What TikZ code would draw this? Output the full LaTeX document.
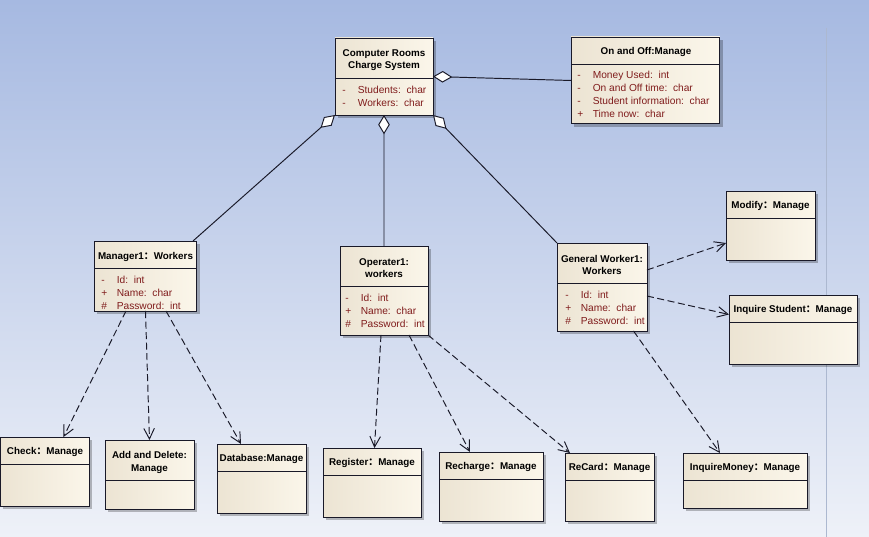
\documentclass[tikz,border=0pt]{standalone}
\usepackage{fontspec}
\setmainfont{Liberation Sans}
\newfontfamily\cjk{Noto Sans CJK SC}
\usetikzlibrary{arrows.meta,shadows}
\definecolor{bgtop}{RGB}{166,185,225}
\definecolor{bgmid}{RGB}{201,212,237}
\definecolor{bgbot}{RGB}{238,241,248}
\definecolor{boxl}{RGB}{236,228,211}
\definecolor{boxr}{RGB}{251,246,234}
\definecolor{attrc}{RGB}{128,28,28}
\definecolor{linec}{RGB}{25,25,40}
\definecolor{pagec}{RGB}{172,184,208}
\newcommand{\fc}{{\cjk ：}}
\newcommand{\vis}[1]{\makebox[8.8pt][l]{#1}}

\begin{document}
\begin{tikzpicture}[
  x=0.02cm, y=-0.02cm,
  cls/.style={draw=linec, line width=0.55pt, left color=boxl, right color=boxr, anchor=north west, inner sep=0pt, outer sep=0pt,
    drop shadow={shadow xshift=1.5pt, shadow yshift=-1.5pt, opacity=0.25, fill=black}},
  head/.style={align=center, inner sep=0pt, font=\fontsize{5.6}{6.9}\selectfont\bfseries, text=black},
  attr/.style={anchor=north west, align=left, inner sep=0pt, font=\fontsize{5.8}{7.37}\selectfont, text=attrc},
  divider/.style={draw=linec, line width=0.55pt},
  agg/.style={{Diamond[fill=white, length=11pt, width=6.6pt]}-, draw=linec, line width=0.55pt},
  dep/.style={-{Straight Barb[length=6pt, width=6pt]}, draw=linec, line width=0.55pt, dash pattern=on 4pt off 2pt},
]
\useasboundingbox (0,0) rectangle (869,537);
\shade[top color=bgtop, middle color=bgmid, bottom color=bgbot] (0,0) rectangle (869,537);
\draw[pagec, line width=0.5pt] (826,28) -- (826,537);

% top row
\node[cls, minimum width=1.96cm, minimum height=1.54cm] (crs) at (335,38) {};
\node[head] (crsH) at (384,60) {Computer Rooms\\Charge System};
\draw[divider] (crs.west |- 0,78) -- (crs.east |- 0,78);
\node[attr] (crsA) at (342,85.5) {\vis{-}Students:\ \ char\\\vis{-}Workers:\ \ char};

\node[cls, minimum width=2.98cm, minimum height=1.74cm] (oo) at (571,37) {};
\node[head] (ooH) at (646,52) {On and Off:Manage};
\draw[divider] (oo.west |- 0,64) -- (oo.east |- 0,64);
\node[attr] (ooA) at (577,70.5) {\vis{-}Money Used:\ \ int\\\vis{-}On and Off time:\ \ char\\\vis{-}Student information:\ \ char\\\vis{+}Time now:\ \ char};

% middle row
\node[cls, minimum width=2.06cm, minimum height=1.40cm] (mgr) at (94,241) {};
\node[head] (mgrH) at (145.5,257) {Manager1\fc Workers};
\draw[divider] (mgr.west |- 0,268) -- (mgr.east |- 0,268);
\node[attr] (mgrA) at (101,275.5) {\vis{-}Id:\ \ int\\\vis{+}Name:\ \ char\\\vis{\#}Password:\ \ int};

\node[cls, minimum width=1.76cm, minimum height=1.78cm] (op) at (340,246) {};
\node[head] (opH) at (384,268.5) {Operater1:\\workers};
\draw[divider] (op.west |- 0,286) -- (op.east |- 0,286);
\node[attr] (opA) at (345,293.5) {\vis{-}Id:\ \ int\\\vis{+}Name:\ \ char\\\vis{\#}Password:\ \ int};

\node[cls, minimum width=1.80cm, minimum height=1.76cm] (gw) at (557,243) {};
\node[head] (gwH) at (602,265) {General Worker1:\\Workers};
\draw[divider] (gw.west |- 0,283) -- (gw.east |- 0,283);
\node[attr] (gwA) at (565,290.5) {\vis{-}Id:\ \ int\\\vis{+}Name:\ \ char\\\vis{\#}Password:\ \ int};

\node[cls, minimum width=1.78cm, minimum height=1.38cm] (mod) at (726,191) {};
\node[head] (modH) at (770.5,206) {Modify\fc Manage};
\draw[divider] (mod.west |- 0,218) -- (mod.east |- 0,218);

\node[cls, minimum width=2.56cm, minimum height=1.38cm] (inqs) at (729,295) {};
\node[head] (inqsH) at (793,310) {Inquire Student\fc Manage};
\draw[divider] (inqs.west |- 0,322) -- (inqs.east |- 0,322);

% bottom row
\node[cls, minimum width=1.78cm, minimum height=1.38cm] (chk) at (0.5,437) {};
\node[head] (chkH) at (45,451.5) {Check\fc Manage};
\draw[divider] (chk.west |- 0,464) -- (chk.east |- 0,464);

\node[cls, minimum width=1.78cm, minimum height=1.38cm] (add) at (105,440) {};
\node[head] (addH) at (149.5,462.5) {Add and Delete:\\Manage};
\draw[divider] (add.west |- 0,480) -- (add.east |- 0,480);

\node[cls, minimum width=1.78cm, minimum height=1.38cm] (db) at (217,444) {};
\node[head] (dbH) at (261.5,459) {Database:Manage};
\draw[divider] (db.west |- 0,471) -- (db.east |- 0,471);

\node[cls, minimum width=1.96cm, minimum height=1.38cm] (reg) at (323,448) {};
\node[head] (regH) at (372,463) {Register\fc Manage};
\draw[divider] (reg.west |- 0,475) -- (reg.east |- 0,475);

\node[cls, minimum width=2.08cm, minimum height=1.38cm] (rch) at (439,452) {};
\node[head] (rchH) at (491,467) {Recharge\fc Manage};
\draw[divider] (rch.west |- 0,479) -- (rch.east |- 0,479);

\node[cls, minimum width=1.78cm, minimum height=1.36cm] (rc) at (565,453) {};
\node[head] (rcH) at (609.5,468) {ReCard\fc Manage};
\draw[divider] (rc.west |- 0,480) -- (rc.east |- 0,480);

\node[cls, minimum width=2.48cm, minimum height=1.10cm] (inqm) at (683,453) {};
\node[head] (inqmH) at (745,468) {InquireMoney\fc Manage};
\draw[divider] (inqm.west |- 0,480) -- (inqm.east |- 0,480);

% aggregation
\draw[agg] (crs.east) -- (oo.west);
\draw[agg] (crs.south west) -- ([shift={(-4,0)}]mgr.north east);
\draw[agg] (crs.south) -- (op.north);
\draw[agg] (crs.south east) -- (gw.north west);

% dependencies
\draw[dep] ([shift={(-19.5,0)}]mgr.south) -- ([shift={(18.5,0)}]chk.north);
\draw[dep] (mgr.south) -- (add.north);
\draw[dep] ([shift={(20.5,0)}]mgr.south) -- ([shift={(-20.5,0)}]db.north);
\draw[dep] ([shift={(-3,0)}]op.south) -- ([shift={(2.5,0)}]reg.north);
\draw[dep] ([shift={(25,0)}]op.south) -- ([shift={(-21,0)}]rch.north);
\draw[dep] (op.south east) -- ([shift={(5,0)}]rc.north west);
\draw[dep] ([shift={(0,-17)}]gw.east) -- ([shift={(0,17.5)}]mod.west);
\draw[dep] ([shift={(0,9)}]gw.east) -- ([shift={(0,-15)}]inqs.west);
\draw[dep] ([shift={(31.5,0)}]gw.south) -- ([shift={(-25,0)}]inqm.north);
\end{tikzpicture}
\end{document}
